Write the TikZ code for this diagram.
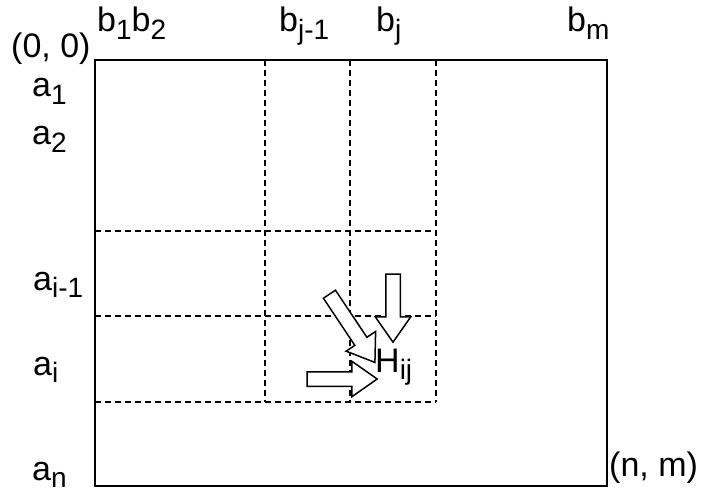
\documentclass[tikz,border=0pt]{standalone}
\usepackage{fontspec}
\setmainfont{Liberation Sans}
\usetikzlibrary{shapes.arrows}
\newcommand\lowidx[1]{\raisebox{-7.5pt}{\fontsize{28}{28}\selectfont #1}}
\begin{document}
\begin{tikzpicture}[x=1pt, y=-1pt,
    lbl/.style={inner sep=0pt, anchor=base west, font=\fontsize{34}{38}\selectfont},
    grille/.style={dash pattern=on 6pt off 4pt, line width=1.4pt},
    fleche/.style={shape=single arrow, draw, fill=white, line width=1.5pt,
      inner xsep=0pt, inner ysep=6.5pt, single arrow head extend=10.5pt,
      single arrow tip angle=70}]
    \useasboundingbox (0,0) rectangle (701,492);
    \fill[white] (0,0) rectangle (701,492);
    % cadre de la table
    \draw[line width=1.8pt] (95,60) rectangle (607,486);
    \foreach \x in {265, 350, 436} {
      \draw[grille] (\x,60) -- (\x,402);
    }
    \foreach \y in {231, 316, 402} {
      \draw[grille] (95,\y) -- (436,\y);
    }
    % indices
    \node[lbl] (orig) at (11,58) {(0, 0)};
    \node[lbl] (fin) at (609,476) {(n, m)};
    \node[lbl] (b12) at (97,32) {b\lowidx{1}b\lowidx{2}};
    \node[lbl] (bjm) at (279,32) {b\lowidx{j-1}};
    \node[lbl] (bj) at (376,32) {b\lowidx{j}};
    \node[lbl] (bm) at (567,32) {b\lowidx{m}};
    \node[lbl] (a1) at (32,97) {a\lowidx{1}};
    \node[lbl] (a2) at (32,145) {a\lowidx{2}};
    \node[lbl] (aim) at (33,290) {a\lowidx{i-1}};
    \node[lbl] (ai) at (33,375) {a\lowidx{i}};
    \node[lbl] (an) at (32,480) {a\lowidx{n}};
    \node[lbl] (hij) at (375,372) {H\lowidx{ij}};
    % les trois dependances
    \node[fleche, minimum height=68pt, rotate=-90] (haut) at (393,303) {};
    \node[fleche, minimum height=82pt, rotate=-56.3] (diag) at (349.3,324) {};
    \node[fleche, minimum height=70pt] (gauche) at (337,379) {};
\end{tikzpicture}
\end{document}
